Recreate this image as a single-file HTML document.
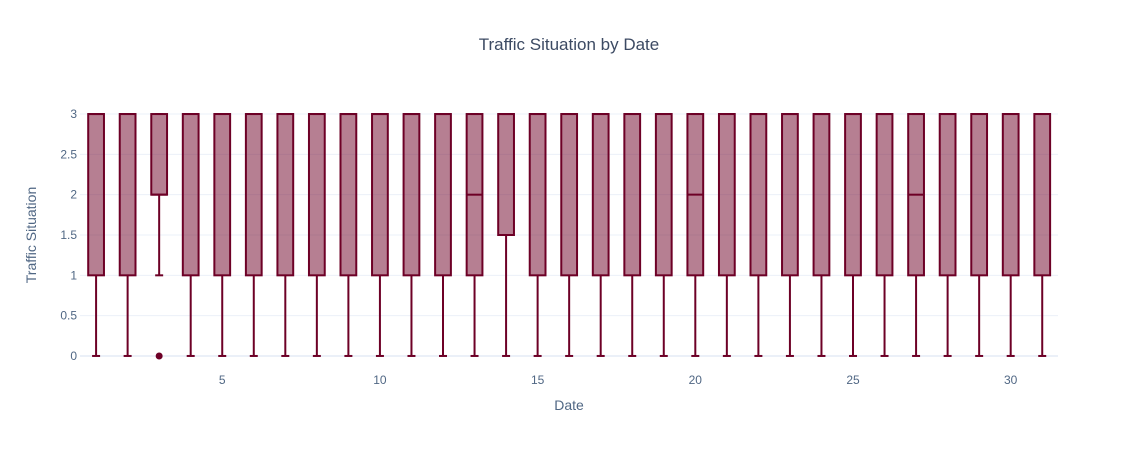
<!DOCTYPE html>
<html><head><meta charset="utf-8"><style>
body{margin:0;background:#fff;}
svg{display:block;font-family:"Liberation Sans",sans-serif;}
</style></head><body>
<svg id="chart" width="1138" height="450">
<rect width="1138" height="450" fill="#fff"/>
<text x="569" y="50" text-anchor="middle" font-size="17" fill="#3c4a63">Traffic Situation by Date</text>
<g id="grid"></g><g id="boxes"></g><g id="axes"></g>
<text x="569" y="410" text-anchor="middle" font-size="14" fill="#506784">Date</text>
<text transform="translate(36,235) rotate(-90)" text-anchor="middle" font-size="14" fill="#506784">Traffic Situation</text>
</svg>
<script>
const days=[1,2,3,4,5,6,7,8,9,10,11,12,13,14,15,16,17,18,19,20,21,22,23,24,25,26,27,28,29,30,31];
const q1=[1,1,2,1,1,1,1,1,1,1,1,1,1,1.5,1,1,1,1,1,1,1,1,1,1,1,1,1,1,1,1,1];
const medians=[3,3,2,3,3,3,3,3,3,3,3,3,2,3,3,3,3,3,3,2,3,3,3,3,3,3,2,3,3,3,3];
const q3=[3,3,3,3,3,3,3,3,3,3,3,3,3,3,3,3,3,3,3,3,3,3,3,3,3,3,3,3,3,3,3];
const lowerFence=[0,0,1,0,0,0,0,0,0,0,0,0,0,0,0,0,0,0,0,0,0,0,0,0,0,0,0,0,0,0,0];
const upperFence=[3,3,3,3,3,3,3,3,3,3,3,3,3,3,3,3,3,3,3,3,3,3,3,3,3,3,3,3,3,3,3];
const outliers=[[],[],[0],[],[],[],[],[],[],[],[],[],[],[],[],[],[],[],[],[],[],[],[],[],[],[],[],[],[],[],[]];
const xTicks=[5,10,15,20,25,30];
const yTicks=[0,0.5,1,1.5,2,2.5,3];
const ns="http://www.w3.org/2000/svg";
const L=80,R=1058,T=100,B=370,xmin=0.49,xmax=31.5,ymin=-0.174,ymax=3.174;
const X=v=>L+(v-xmin)/(xmax-xmin)*(R-L);
const Y=v=>B-(v-ymin)/(ymax-ymin)*(B-T);
function mk(tag,attrs,parent){const e=document.createElementNS(ns,tag);for(const k in attrs)e.setAttribute(k,attrs[k]);parent.appendChild(e);return e;}
const grid=document.getElementById('grid'),axes=document.getElementById('axes'),boxes=document.getElementById('boxes');
yTicks.forEach(t=>{
 const l=mk('line',{x1:L,x2:R,y1:Y(t),y2:Y(t),stroke:'#ebf0f8','stroke-width':t===0?2:1},grid);
 
 
 const tx=mk('text',{x:L-3,y:Y(t)+4,'text-anchor':'end','font-size':12,fill:'#506784'},axes);
 tx.textContent=String(t);
 
 
});
xTicks.forEach(t=>{
 const tx=mk('text',{x:X(t),y:384,'text-anchor':'middle','font-size':12,fill:'#506784'},axes);
 tx.textContent=String(t);
 
 
});
const C='#6d0026',F='rgba(110,0,38,0.5)';
const hw=(X(1.25)-X(1))*1.0,cw=4;
days.forEach((d,i)=>{
 const g=mk('g',{},boxes);
 
 
 const cx=X(d);
 mk('line',{x1:cx,x2:cx,y1:Y(lowerFence[i]),y2:Y(q1[i]),stroke:C,'stroke-width':2},g);
 mk('line',{x1:cx,x2:cx,y1:Y(q3[i]),y2:Y(upperFence[i]),stroke:C,'stroke-width':2},g);
 mk('line',{x1:cx-cw,x2:cx+cw,y1:Y(lowerFence[i]),y2:Y(lowerFence[i]),stroke:C,'stroke-width':2},g);
 mk('line',{x1:cx-cw,x2:cx+cw,y1:Y(upperFence[i]),y2:Y(upperFence[i]),stroke:C,'stroke-width':2},g);
 mk('rect',{x:cx-hw,y:Y(q3[i]),width:2*hw,height:Y(q1[i])-Y(q3[i]),fill:F,stroke:C,'stroke-width':2},g);
 mk('line',{x1:cx-hw,x2:cx+hw,y1:Y(medians[i]),y2:Y(medians[i]),stroke:C,'stroke-width':2},g);
 outliers[i].forEach(o=>{
  const c=mk('circle',{cx:cx,cy:Y(o),r:3.5,fill:C},g);
  
  
 });
});
</script>
</body></html>
